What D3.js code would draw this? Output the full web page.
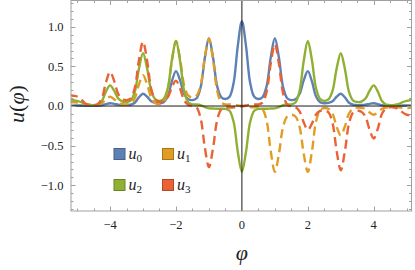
<!DOCTYPE html>
<html>
<head>
<meta charset="utf-8">
<script src="https://cdn.jsdelivr.net/npm/d3@7"></script>
<style>
  html, body { margin: 0; padding: 0; background: #fff; }
  svg { display: block; }
  text { font-family: "Liberation Serif", "Times New Roman", Times, serif; }
</style>
</head>
<body>
<svg id="chart" width="415" height="270"></svg>
<script>
// sample grid (phi) and the four curves
const phi = [-5.25, -5.125, -5, -4.875, -4.75, -4.625, -4.5, -4.375, -4.25, -4.125,
  -4, -3.875, -3.75, -3.625, -3.5, -3.375, -3.25, -3.125, -3, -2.875,
  -2.75, -2.625, -2.5, -2.375, -2.25, -2.125, -2, -1.875, -1.75, -1.625,
  -1.5, -1.375, -1.25, -1.125, -1, -0.875, -0.75, -0.625, -0.5, -0.375,
  -0.25, -0.125, 0, 0.125, 0.25, 0.375, 0.5, 0.625, 0.75, 0.875,
  1, 1.125, 1.25, 1.375, 1.5, 1.625, 1.75, 1.875, 2, 2.125,
  2.25, 2.375, 2.5, 2.625, 2.75, 2.875, 3, 3.125, 3.25, 3.375,
  3.5, 3.625, 3.75, 3.875, 4, 4.125, 4.25, 4.375, 4.5, 4.625,
  4.75, 4.875, 5, 5.125, 5.25];

const u0 = [0.002, 0.005, 0.008, 0.006, 0.004, 0.003, 0.003, 0.004, 0.010, 0.025,
  0.035, 0.028, 0.017, 0.013, 0.012, 0.016, 0.042, 0.109, 0.155, 0.117,
  0.060, 0.039, 0.035, 0.047, 0.120, 0.310, 0.440, 0.323, 0.152, 0.086,
  0.075, 0.098, 0.239, 0.605, 0.855, 0.610, 0.249, 0.111, 0.088, 0.117,
  0.294, 0.756, 1.070, 0.756, 0.294, 0.117, 0.088, 0.111, 0.249, 0.610,
  0.855, 0.605, 0.239, 0.098, 0.075, 0.086, 0.152, 0.323, 0.440, 0.310,
  0.120, 0.047, 0.035, 0.039, 0.060, 0.117, 0.155, 0.109, 0.042, 0.016,
  0.012, 0.013, 0.017, 0.028, 0.035, 0.025, 0.010, 0.004, 0.003, 0.003,
  0.004, 0.006, 0.008, 0.005, 0.002];

const u1 = [0.048, 0.047, 0.045, 0.035, 0.021, 0.016, 0.015, 0.018, 0.036, 0.084,
  0.117, 0.086, 0.040, 0.023, 0.020, 0.031, 0.098, 0.272, 0.390, 0.273,
  0.102, 0.036, 0.025, 0.049, 0.192, 0.566, 0.820, 0.593, 0.259, 0.131,
  0.110, 0.132, 0.265, 0.613, 0.850, 0.584, 0.194, 0.045, 0.020, 0.019,
  0.016, 0.006, 0, -0.005, -0.012, -0.015, -0.015, -0.039, -0.186, -0.569,
  -0.830, -0.600, -0.261, -0.132, -0.110, -0.132, -0.261, -0.600, -0.830, -0.572,
  -0.194, -0.049, -0.025, -0.035, -0.097, -0.260, -0.370, -0.258, -0.094, -0.031,
  -0.020, -0.023, -0.039, -0.081, -0.110, -0.080, -0.035, -0.018, -0.015, -0.015,
  -0.017, -0.022, -0.025, -0.020, -0.013];

const u2 = [0.085, 0.075, 0.065, 0.048, 0.023, 0.014, 0.012, 0.019, 0.064, 0.181,
  0.260, 0.193, 0.094, 0.056, 0.050, 0.068, 0.179, 0.468, 0.665, 0.473,
  0.191, 0.083, 0.065, 0.088, 0.224, 0.578, 0.820, 0.564, 0.188, 0.044,
  0.020, 0.019, 0.010, -0.014, -0.030, -0.032, -0.034, -0.035, -0.035, -0.059,
  -0.202, -0.576, -0.830, -0.576, -0.202, -0.059, -0.035, -0.035, -0.034, -0.032,
  -0.030, -0.014, 0.010, 0.019, 0.020, 0.044, 0.188, 0.564, 0.820, 0.578,
  0.224, 0.088, 0.065, 0.083, 0.191, 0.473, 0.665, 0.468, 0.179, 0.068,
  0.050, 0.056, 0.094, 0.193, 0.260, 0.181, 0.064, 0.019, 0.012, 0.014,
  0.023, 0.048, 0.065, 0.075, 0.085];

const u3 = [0.140, 0.130, 0.120, 0.085, 0.033, 0.013, 0.010, 0.023, 0.098, 0.296,
  0.430, 0.316, 0.150, 0.086, 0.075, 0.097, 0.229, 0.575, 0.810, 0.568,
  0.214, 0.078, 0.055, 0.063, 0.111, 0.235, 0.320, 0.219, 0.071, 0.014,
  0.005, -0.018, -0.158, -0.522, -0.770, -0.530, -0.178, -0.043, -0.020, -0.019,
  -0.016, -0.006, 0, 0.006, 0.016, 0.019, 0.020, 0.043, 0.180, 0.537,
  0.780, 0.529, 0.160, 0.019, -0.005, -0.014, -0.067, -0.206, -0.300, -0.222,
  -0.106, -0.062, -0.055, -0.078, -0.214, -0.568, -0.810, -0.570, -0.218, -0.083,
  -0.060, -0.071, -0.134, -0.298, -0.410, -0.284, -0.098, -0.027, -0.015, -0.018,
  -0.035, -0.080, -0.110, -0.115, -0.115];

const seriesNames = ['0', '1', '2', '3'];
const seriesColors = ['#5E81B5', '#E19C24', '#8FB032', '#EB6235'];
const seriesDashed = [false, true, false, true];

const xTicks = [-4, -2, 0, 2, 4];
const yTicks = [-1.0, -0.5, 0.0, 0.5, 1.0];

// layout
const W = 415, H = 270;
const pLeft = 71, pRight = 411.5, pTop = 0.5, pBottom = 211;

const svg = d3.select('#chart');
const x = d3.scaleLinear().domain([-5.185, 5.146]).range([pLeft, pRight]);
const y = d3.scaleLinear().domain([-1.324, 1.331]).range([pBottom, pTop]);

svg.append('rect').attr('width', W).attr('height', H).attr('fill', '#fff');

svg.append('clipPath').attr('id', 'clip')
  .append('rect')
  .attr('x', pLeft).attr('y', pTop)
  .attr('width', pRight - pLeft).attr('height', pBottom - pTop);

// curves
const line = d3.line()
  .x((d, i) => x(phi[i]))
  .y(d => y(d))
  .curve(d3.curveCatmullRom);

const plot = svg.append('g').attr('clip-path', 'url(#clip)');
[u0, u1, u2, u3].forEach((vals, k) => {
  plot.append('path')
    .datum(vals)
    .attr('d', line)
    .attr('fill', 'none')
    .attr('stroke', seriesColors[k])
    .attr('stroke-width', 2.4)
    .attr('stroke-linejoin', 'round')
    .attr('stroke-dasharray', seriesDashed[k] ? '9,5' : null);
});

// axes through the origin, in front
plot.append('line')
  .attr('x1', pLeft).attr('x2', pRight)
  .attr('y1', y(0)).attr('y2', y(0))
  .attr('stroke', '#1a1a1a').attr('stroke-width', 1);
plot.append('line')
  .attr('x1', x(0)).attr('x2', x(0))
  .attr('y1', pTop).attr('y2', pBottom)
  .attr('stroke', '#1a1a1a').attr('stroke-width', 1);

// frame with inward ticks on all four sides
const frameCol = '#a0a0a0';
const fr = svg.append('g');
fr.append('rect')
  .attr('x', pLeft).attr('y', pTop)
  .attr('width', pRight - pLeft).attr('height', pBottom - pTop)
  .attr('fill', 'none').attr('stroke', frameCol).attr('stroke-width', 1);

const xMinor = d3.range(-10, 11).map(k => k * 0.5).filter(v => v > -5.19 && v < 5.15);
xMinor.forEach(v => {
  const major = xTicks.includes(v);
  const len = major ? 4.5 : 2.5;
  const px = Math.round(x(v)) + 0.5;
  fr.append('line').attr('x1', px).attr('x2', px)
    .attr('y1', pBottom).attr('y2', pBottom - len)
    .attr('stroke', frameCol);
  fr.append('line').attr('x1', px).attr('x2', px)
    .attr('y1', pTop).attr('y2', pTop + len)
    .attr('stroke', frameCol);
});

const yMinor = d3.range(-13, 14).map(k => k / 10);
yMinor.forEach(v => {
  const major = yTicks.some(t => Math.abs(t - v) < 1e-9);
  const len = major ? 4.5 : 2.5;
  const py = Math.round(y(v)) + 0.5;
  fr.append('line').attr('x1', pLeft).attr('x2', pLeft + len)
    .attr('y1', py).attr('y2', py).attr('stroke', frameCol);
  fr.append('line').attr('x1', pRight).attr('x2', pRight - len)
    .attr('y1', py).attr('y2', py).attr('stroke', frameCol);
});

// tick labels
const fmtMinus = s => s.replace('-', '\u2212');
svg.append('g').selectAll('text')
  .data(xTicks).enter().append('text')
  .attr('x', d => x(d))
  .attr('y', 228.5)
  .attr('text-anchor', 'middle')
  .attr('font-size', 12.5)
  .attr('fill', '#222')
  .text(d => fmtMinus(String(d)));

svg.append('g').selectAll('text')
  .data(yTicks).enter().append('text')
  .attr('x', 63.5)
  .attr('y', d => y(d) + 4.3)
  .attr('text-anchor', 'end')
  .attr('font-size', 12.5)
  .attr('fill', '#222')
  .text(d => fmtMinus(d.toFixed(1)));

// axis titles
svg.append('text')
  .attr('transform', 'translate(24,104) rotate(-90)')
  .attr('text-anchor', 'middle')
  .attr('font-size', 22)
  .attr('fill', '#222')
  .html('<tspan font-style="italic">u</tspan>(<tspan font-style="italic">\u03C6</tspan>)');

svg.append('text')
  .attr('x', x(0))
  .attr('y', 260)
  .attr('text-anchor', 'middle')
  .attr('font-style', 'italic')
  .attr('font-size', 22)
  .attr('fill', '#222')
  .text('\u03C6');

// legend, two columns by two rows
const legX = [114, 162.5];
const legY = [148.5, 179.5];
const leg = svg.append('g');
seriesNames.forEach((name, k) => {
  const col = k % 2, row = Math.floor(k / 2);
  const g = leg.append('g').attr('transform', `translate(${legX[col]},${legY[row]})`);
  g.append('rect')
    .attr('width', 11).attr('height', 11)
    .attr('fill', seriesColors[k])
    .attr('stroke', d3.color(seriesColors[k]).darker(0.8))
    .attr('stroke-width', 1);
  const t = g.append('text')
    .attr('x', 14.5).attr('y', 10)
    .attr('font-size', 16)
    .attr('fill', '#222');
  t.append('tspan').attr('font-style', 'italic').text('u');
  t.append('tspan').attr('font-size', 11).attr('dy', 3).text(name);
});
</script>
</body>
</html>
